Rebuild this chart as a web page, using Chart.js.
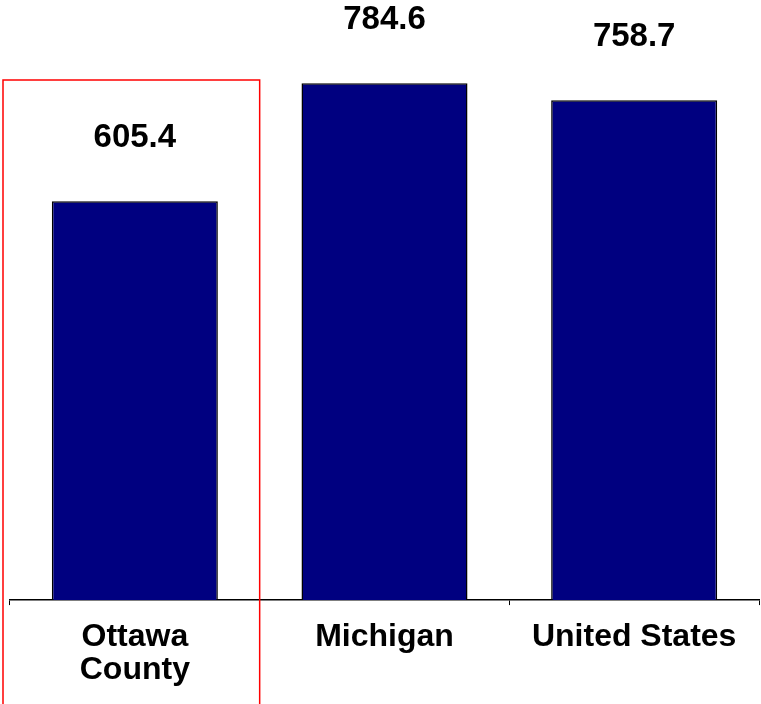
<!DOCTYPE html>
<html>
<head>
<meta charset="utf-8">
<script src="https://cdn.jsdelivr.net/npm/chart.js@4"></script>
<style>
    body { margin: 0; background: #fff; }
    #wrap { width: 761px; height: 704px; }
</style>
</head>
<body>
<div id="wrap"><canvas id="rateChart" width="761" height="704"></canvas></div>
<script>
// Chart data
const categories = [["Ottawa", "County"], "Michigan", "United States"];
const rates = [605.4, 784.6, 758.7];
const valueLabels = ["605.4", "784.6", "758.7"];

const fontFamily = "'Liberation Sans', Arial, sans-serif";

// Draw value labels above each bar and the red box round the first category
const labelPlugin = {
    id: 'valueLabels',
    afterDatasetsDraw(chart) {
        const ctx = chart.ctx;
        const meta = chart.getDatasetMeta(0);
        ctx.save();
        ctx.font = "bold 33px " + fontFamily;
        ctx.fillStyle = "#000";
        ctx.textAlign = "center";
        ctx.textBaseline = "middle";
        meta.data.forEach(function (bar, i) {
            ctx.fillText(valueLabels[i], bar.x, bar.y - 63);
        });
        ctx.restore();
    },
    afterDraw(chart) {
        const ctx = chart.ctx;
        const area = chart.chartArea;
        const step = (area.right - area.left) / categories.length;
        ctx.save();
        ctx.strokeStyle = "#ff0000";
        ctx.lineWidth = 1.5;
        ctx.strokeRect(area.left - 7, 80, step + 7, chart.height);
        ctx.restore();
    }
};

const ctx = document.getElementById('rateChart').getContext('2d');
const rateChart = new Chart(ctx, {
    type: 'bar',
    data: {
        labels: categories,
        datasets: [{
            data: rates,
            backgroundColor: "#000080",
            borderColor: "#000000",
            borderWidth: 1.5,
            categoryPercentage: 1,
            barPercentage: 0.665
        }]
    },
    options: {
        responsive: false,
        animation: false,
        layout: { padding: { left: 10, right: 2, top: 0, bottom: 1 } },
        plugins: {
            legend: { display: false },
            tooltip: { enabled: false }
        },
        scales: {
            y: { display: false, min: 0, max: 911 },
            x: {
                grid: { display: true, drawOnChartArea: false, tickLength: 5, color: "#000", lineWidth: 1 },
                border: { display: true, color: "#000", width: 1.5 },
                ticks: {
                    color: "#000",
                    padding: 16,
                    maxRotation: 0,
                    autoSkip: false,
                    font: { family: fontFamily, size: 32, weight: 'bold', lineHeight: 1.03 }
                }
            }
        }
    },
    plugins: [labelPlugin]
});
</script>
</body>
</html>
